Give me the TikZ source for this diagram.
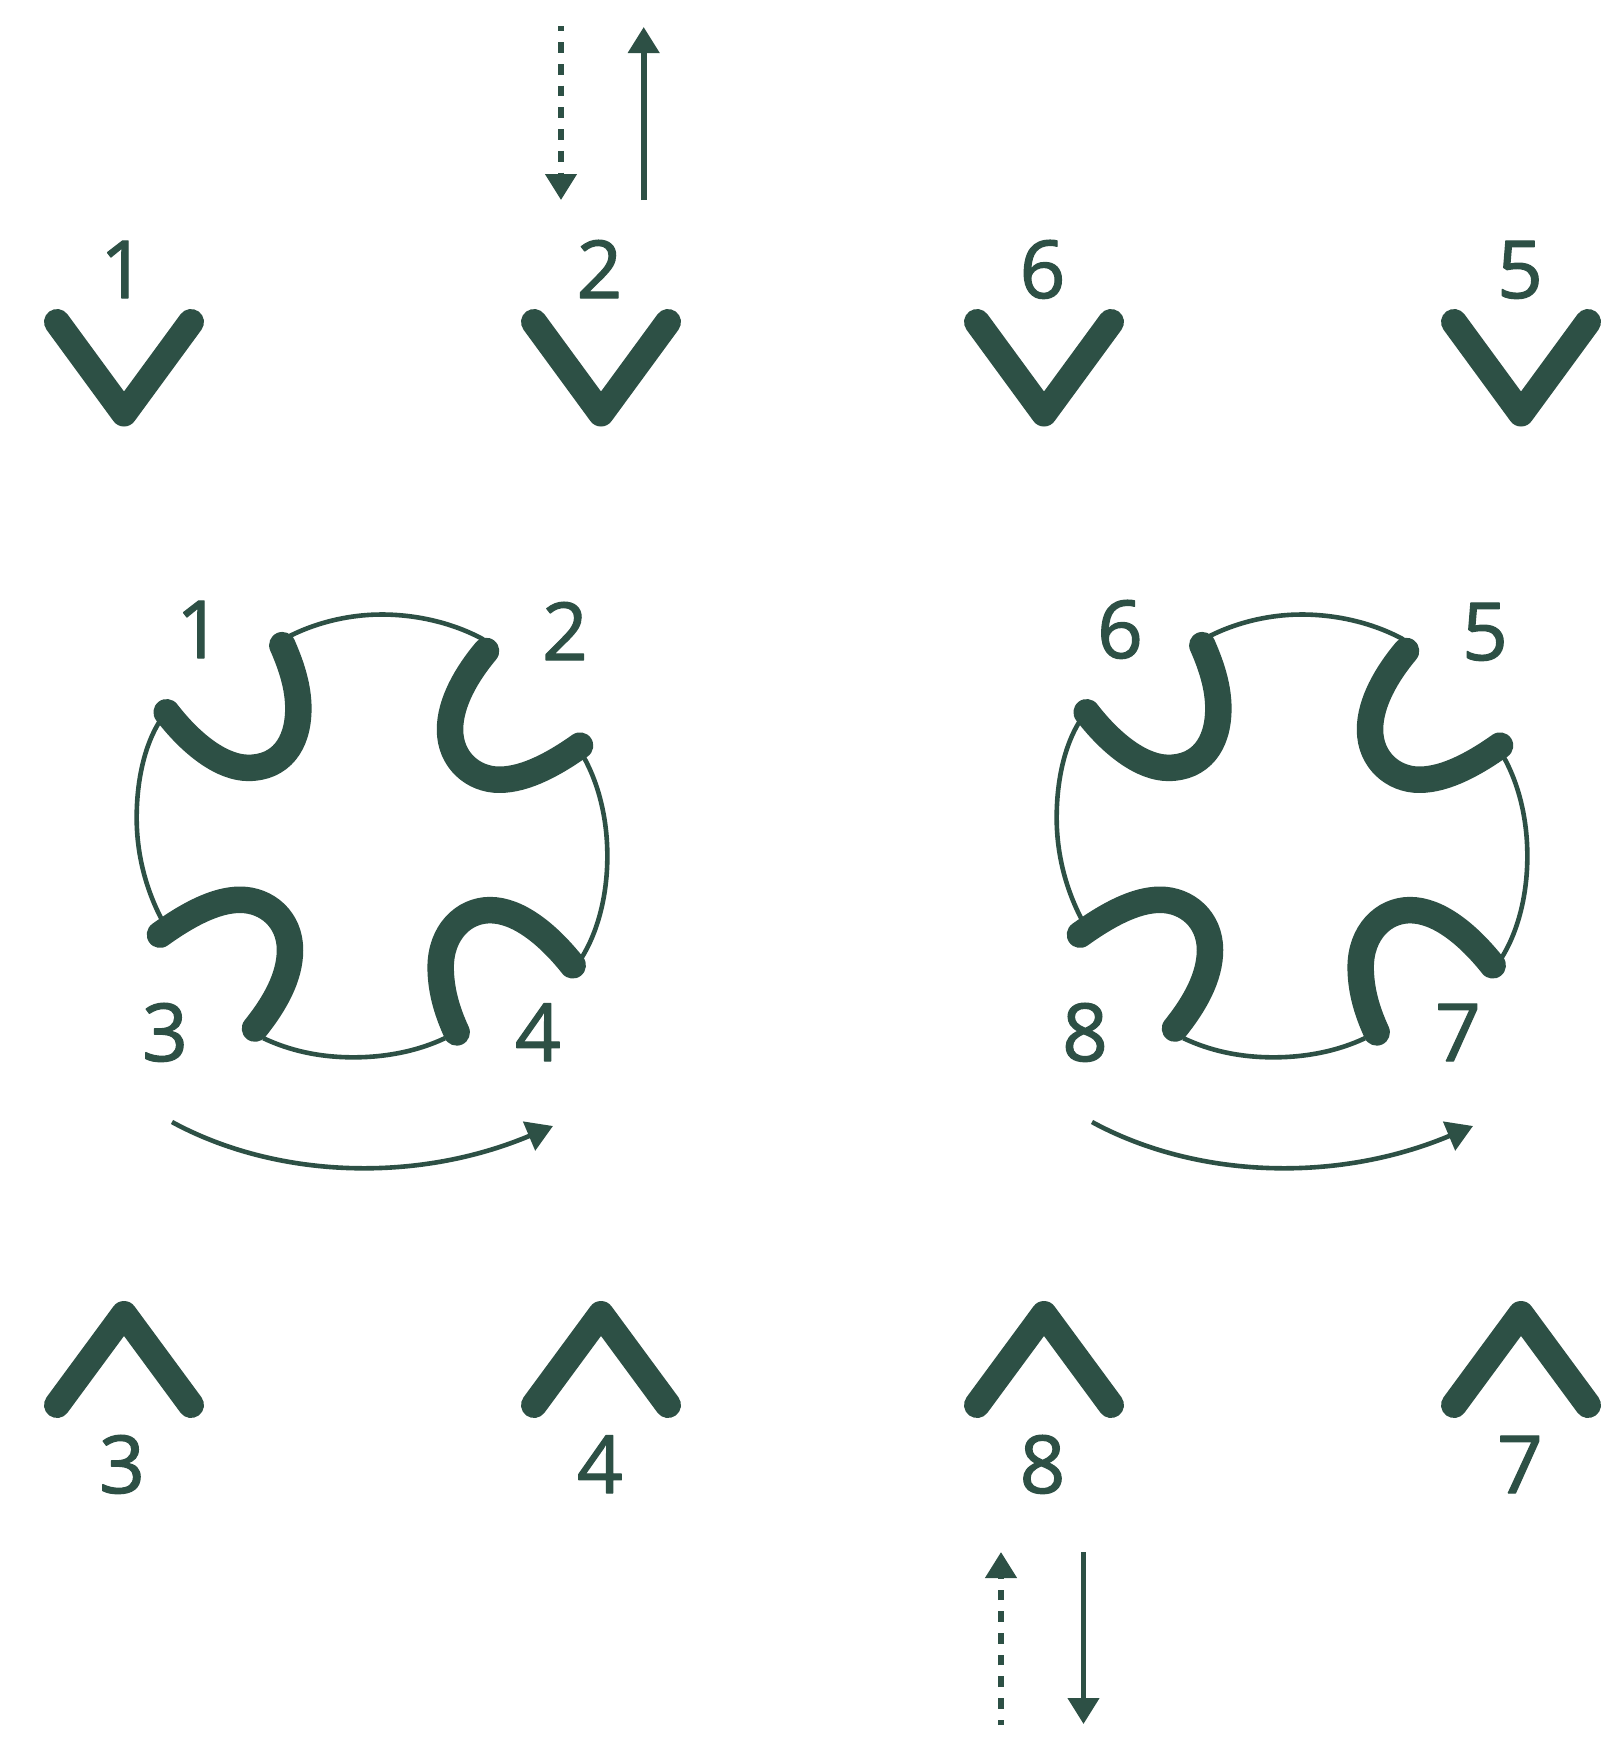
\documentclass[tikz,border=0pt]{standalone}
\usepackage{fontspec}
\setmainfont{Open Sans}[FakeBold=1.5]
\usetikzlibrary{arrows.meta}
\definecolor{ink}{HTML}{2D5045}
\tikzset{
  every path/.style={line cap=round,line join=round},
  lab/.style={text=ink,font=\fontsize{40pt}{40pt}\selectfont,inner sep=0pt,anchor=base},
  chev/.style={draw=ink,line width=13pt},
  thick arm/.style={draw=ink,line width=13.25pt},
  thin arc/.style={draw=ink,line width=2.3pt,line cap=butt},
  shaft/.style={draw=ink,line width=2.8pt,line cap=butt,-{Triangle[length=13pt,width=15.3pt]}},
  dash shaft/.style={shaft,dash pattern=on 5.35pt off 5.5pt,dash phase=2.7pt},
  sweep/.style={draw=ink,line width=2.3pt,line cap=butt,-{Triangle[length=13pt,width=15.3pt]}},
}
\newcommand{\gearcross}[1]{%
  \begin{scope}[shift={(#1,580)},x=0.16667pt,y=-0.1917pt]
    \draw[thin arc] (505,148) .. controls (590,110) and (690,90) .. (785,90) .. controls (890,90) and (1000,112) .. (1090,155);
    \draw[thin arc] (118,370) .. controls (75,430) and (50,520) .. (50,620) .. controls (50,720) and (80,810) .. (125,885);
    \draw[thin arc] (1390,460) .. controls (1435,530) and (1462,620) .. (1462,720) .. controls (1462,820) and (1435,915) .. (1385,985);
    \draw[thin arc] (430,1195) .. controls (510,1228) and (600,1245) .. (700,1245) .. controls (800,1245) and (895,1228) .. (975,1195);
    \draw[thick arm] (140,345) .. controls (220,435) and (310,490) .. (385,490)
      .. controls (480,490) and (535,430) .. (535,335)
      .. controls (535,280) and (515,225) .. (487,170);
    \draw[thick arm] (1098,185) .. controls (1040,245) and (990,320) .. (990,390)
      .. controls (990,470) and (1060,521) .. (1138,521)
      .. controls (1220,521) and (1310,475) .. (1380,432);
    \draw[thick arm] (120,925) .. controls (200,875) and (285,834) .. (360,834)
      .. controls (440,834) and (510,885) .. (510,965)
      .. controls (510,1035) and (465,1105) .. (405,1170);
    \draw[thick arm] (1010,1180) .. controls (978,1120) and (962,1065) .. (962,1010)
      .. controls (962,920) and (1030,861) .. (1110,861)
      .. controls (1195,861) and (1285,925) .. (1358,1005);
  \end{scope}
  \begin{scope}[shift={(#1,0)}]
    \coordinate (s#1) at (52,1122);
    \coordinate (e#1) at (433,1126);
    \draw[sweep] (s#1) .. controls (155,1178) and (295,1184) .. (e#1);
  \end{scope}
}
\begin{document}
\begin{tikzpicture}[x=0.5pt,y=-0.5pt]
\useasboundingbox[fill=white] (0,0) rectangle (1604,1741);
% chevrons
\foreach \cx in {124,601,1044,1521}{
  \draw[chev] (\cx-67,322) -- (\cx,413.5) -- (\cx+67,322);
  \draw[chev] (\cx-67,1405) -- (\cx,1314) -- (\cx+67,1405);
}
% crosses
\gearcross{120}
\gearcross{1040}
% chevron labels
\node[lab] (t1) at (123,298) {1};
\node[lab] (t2) at (599.5,298) {2};
\node[lab] (t6) at (1042.5,298) {6};
\node[lab] (t5) at (1520,298) {5};
\node[lab] (b3) at (122,1493) {3};
\node[lab] (b4) at (600,1493) {4};
\node[lab] (b8) at (1042.5,1493) {8};
\node[lab] (b7) at (1520,1493) {7};
% cross labels
\node[lab] (c1) at (199,658) {1};
\node[lab] (c2) at (565,660) {2};
\node[lab] (c3) at (165,1061) {3};
\node[lab] (c4) at (538,1061) {4};
\node[lab] (c6) at (1120,658) {6};
\node[lab] (c5) at (1485,660) {5};
\node[lab] (c8) at (1085,1061) {8};
\node[lab] (c7) at (1458,1061) {7};
% vertical arrows
\coordinate (a1) at (561,26); \coordinate (a2) at (561,200);
\coordinate (a3) at (643.7,200); \coordinate (a4) at (643.7,27);
\coordinate (a5) at (1001,1725); \coordinate (a6) at (1001,1552);
\coordinate (a7) at (1083.5,1552); \coordinate (a8) at (1083.5,1724);
\draw[dash shaft] (a1) -- (a2);
\draw[shaft] (a3) -- (a4);
\draw[dash shaft] (a5) -- (a6);
\draw[shaft] (a7) -- (a8);
\end{tikzpicture}
\end{document}
